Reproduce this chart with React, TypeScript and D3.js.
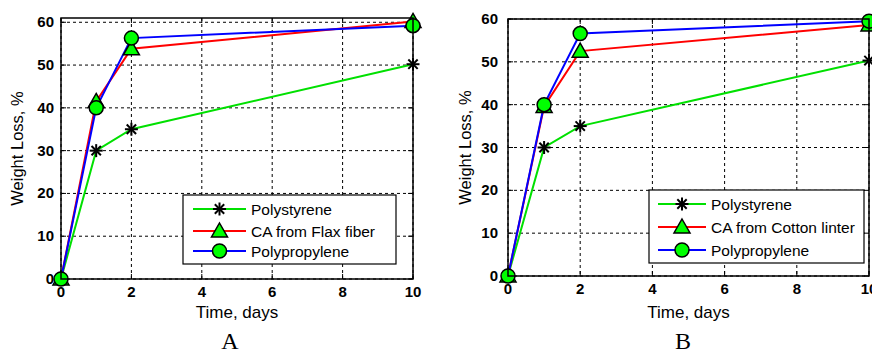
import React from "react";
import * as d3 from "d3";

const days = [0, 1, 2, 10];
const polystyreneA = [0, 30, 35, 50.2];
const flaxA = [0, 41.5, 53.8, 60.2];
const polypropyleneA = [0, 40, 56.3, 59.2];
const polystyreneB = [0, 30, 35, 50.3];
const cottonB = [0, 39.6, 52.5, 58.6];
const polypropyleneB = [0, 40, 56.6, 59.5];
const xTicks = [0, 2, 4, 6, 8, 10];
const yTicks = [0, 10, 20, 30, 40, 50, 60];
const namesA = ["Polystyrene", "CA from Flax fiber", "Polypropylene"];
const namesB = ["Polystyrene", "CA from Cotton linter", "Polypropylene"];

const FONT = "'Liberation Sans', Arial, sans-serif";
const lineColors = ["#00e000", "#ff0000", "#0000ff"];
const markerFill = "#00ff00";

type Box = { left: number; right: number; top: number; bottom: number };

const Marker: React.FC<{ kind: number; x: number; y: number }> = ({ kind, x, y }) => {
  if (kind === 0) {
    const r = 6.5;
    const d = r * 0.72;
    return (
      <g stroke="#000" strokeWidth={2}>
        <line x1={x - r} y1={y} x2={x + r} y2={y} />
        <line x1={x} y1={y - r} x2={x} y2={y + r} />
        <line x1={x - d} y1={y - d} x2={x + d} y2={y + d} />
        <line x1={x - d} y1={y + d} x2={x + d} y2={y - d} />
      </g>
    );
  }
  if (kind === 1) {
    const s = 8;
    return (
      <path
        d={`M${x},${y - s} L${x + s},${y + s * 0.75} L${x - s},${y + s * 0.75} Z`}
        fill={markerFill}
        stroke="#000"
        strokeWidth={1.5}
      />
    );
  }
  return <circle cx={x} cy={y} r={7} fill={markerFill} stroke="#000" strokeWidth={1.5} />;
};

const Panel: React.FC<{
  box: Box;
  yMax: number;
  series: number[][];
  names: string[];
  legend: { x0: number; x1: number; y0: number; y1: number; rows: number[]; lx0: number; lx1: number; tx: number };
  yLabelX: number;
  yTickGap: number;
  letter: string;
  letterX: number;
}> = ({ box, yMax, series, names, legend, yLabelX, yTickGap, letter, letterX }) => {
  const x = d3.scaleLinear().domain([0, 10]).range([box.left, box.right]);
  const y = d3.scaleLinear().domain([0, yMax]).range([box.bottom, box.top]);
  const line = d3
    .line<number>()
    .x((_, i) => x(days[i]))
    .y((d) => y(d));
  const tick = 5;
  const midX = (box.left + box.right) / 2;
  const midY = (box.top + box.bottom) / 2;

  return (
    <g fontFamily={FONT}>
      <rect x={box.left} y={box.top} width={box.right - box.left} height={box.bottom - box.top} fill="#fff" />
      {/* grid */}
      {xTicks.map((t) => (
        <line key={"gx" + t} x1={x(t)} x2={x(t)} y1={box.top} y2={box.bottom} stroke="#000" strokeDasharray="3,3" />
      ))}
      {yTicks.map((t) => (
        <line key={"gy" + t} x1={box.left} x2={box.right} y1={y(t)} y2={y(t)} stroke="#000" strokeDasharray="3,3" />
      ))}
      {/* ticks */}
      {xTicks.map((t) => (
        <g key={"tx" + t} stroke="#000">
          <line x1={x(t)} x2={x(t)} y1={box.bottom} y2={box.bottom - tick} />
          <line x1={x(t)} x2={x(t)} y1={box.top} y2={box.top + tick} />
        </g>
      ))}
      {yTicks.map((t) => (
        <g key={"ty" + t} stroke="#000">
          <line x1={box.left} x2={box.left + tick} y1={y(t)} y2={y(t)} />
          <line x1={box.right} x2={box.right - tick} y1={y(t)} y2={y(t)} />
        </g>
      ))}
      {/* data */}
      {series.map((s, i) => (
        <path key={"l" + i} d={line(s) ?? ""} fill="none" stroke={lineColors[i]} strokeWidth={2} />
      ))}
      {series.map((s, i) =>
        s.map((v, j) => <Marker key={"m" + i + "-" + j} kind={i} x={x(days[j])} y={y(v)} />)
      )}
      <rect
        x={box.left}
        y={box.top}
        width={box.right - box.left}
        height={box.bottom - box.top}
        fill="none"
        stroke="#000"
        strokeWidth={1.5}
      />
      {/* tick labels */}
      {xTicks.map((t) => (
        <text key={"lx" + t} x={x(t)} y={box.bottom + 18} textAnchor="middle" fontSize={15} fontWeight="bold" fill="#000">
          {t}
        </text>
      ))}
      {yTicks.map((t) => (
        <text key={"ly" + t} x={box.left - yTickGap} y={y(t) + 5} textAnchor="end" fontSize={15} fontWeight="bold" fill="#000">
          {t}
        </text>
      ))}
      <text x={midX} y={318} textAnchor="middle" fontSize={17} fill="#000">
        Time, days
      </text>
      <text
        transform={`translate(${yLabelX},${midY}) rotate(-90)`}
        textAnchor="middle"
        fontSize={16.5}
        fill="#000"
      >
        Weight Loss, %
      </text>
      {/* legend */}
      <rect
        x={legend.x0}
        y={legend.y0}
        width={legend.x1 - legend.x0}
        height={legend.y1 - legend.y0}
        fill="#fff"
        stroke="#000"
        strokeWidth={1.2}
      />
      {names.map((n, i) => (
        <g key={"lg" + i}>
          <line x1={legend.lx0} x2={legend.lx1} y1={legend.rows[i]} y2={legend.rows[i]} stroke={lineColors[i]} strokeWidth={2} />
          <Marker kind={i} x={(legend.lx0 + legend.lx1) / 2} y={legend.rows[i]} />
          <text x={legend.tx} y={legend.rows[i] + 6} fontSize={15.5} fill="#000">
            {n}
          </text>
        </g>
      ))}
      <text x={letterX} y={349} textAnchor="middle" fontSize={24} fontFamily="'Liberation Serif', 'Times New Roman', serif" fill="#000">
        {letter}
      </text>
    </g>
  );
};

export default function App() {
  return (
    <svg width={872} height={353} style={{ position: "absolute", left: 0, top: 0, background: "#fff" }}>
      <rect width={872} height={353} fill="#fff" />
      <Panel
        box={{ left: 61, right: 413, top: 18, bottom: 279 }}
        yMax={61}
        series={[polystyreneA, flaxA, polypropyleneA]}
        names={namesA}
        legend={{ x0: 183, x1: 396, y0: 195, y1: 264, rows: [209, 231, 251], lx0: 193, lx1: 246, tx: 251 }}
        yLabelX={23}
        yTickGap={7}
        letter="A"
        letterX={230}
      />
      <Panel
        box={{ left: 508, right: 869, top: 19, bottom: 276 }}
        yMax={60}
        series={[polystyreneB, cottonB, polypropyleneB]}
        names={namesB}
        legend={{ x0: 649, x1: 864, y0: 190, y1: 263, rows: [204, 227, 250], lx0: 658, lx1: 706, tx: 711 }}
        yLabelX={471}
        yTickGap={10}
        letter="B"
        letterX={683}
      />
    </svg>
  );
}
